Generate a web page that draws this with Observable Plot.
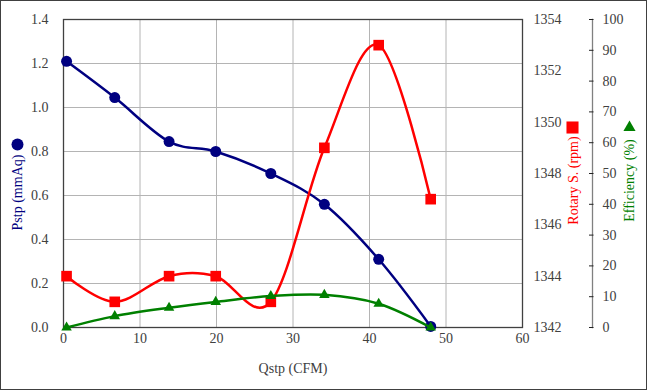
<!DOCTYPE html>
<html><head><meta charset="utf-8">
<script src="https://cdn.jsdelivr.net/npm/d3@7"></script>
<script src="https://cdn.jsdelivr.net/npm/@observablehq/plot@0.6"></script>
<style>
body{margin:0;background:#fff}
#chart svg{display:block;outline:1.5px solid #404040;outline-offset:-1.5px}
#chart svg, #chart svg text{font-family:"Liberation Serif","Times New Roman",serif !important}
</style>
</head><body><div id="chart"></div>
<script>
const qstp = [0.4, 6.7, 13.8, 19.9, 27.1, 34.1, 41.2, 48.0];
const pstp = [1.21, 1.045, 0.845, 0.80, 0.70, 0.56, 0.31, 0.005];
const rpm = [1344, 1343, 1344, 1344, 1343, 1349, 1353, 1347];
const eff = [0, 3.7, 6.4, 8.3, 10.2, 10.6, 7.7, 0];
const xTicks = [0, 10, 20, 30, 40, 50, 60];
const pTicks = [0, 0.2, 0.4, 0.6, 0.8, 1.0, 1.2, 1.4];
const rpmTicks = [1342, 1344, 1346, 1348, 1350, 1352, 1354];
const effTicks = [0, 10, 20, 30, 40, 50, 60, 70, 80, 90, 100];
const pDomain = [0, 1.4], rpmDomain = [1342, 1354], effDomain = [0, 100];
const titles = {x: "Qstp (CFM)", p: "Pstp (mmAq)", r: "Rotary S. (rpm)", e: "Efficiency (%)"};

const rpmToP = d3.scaleLinear(rpmDomain, pDomain);
const effToP = d3.scaleLinear(effDomain, pDomain);
const rows = qstp.map((q, i) => ({q, p: pstp[i], r: rpmToP(rpm[i]), e: effToP(eff[i])}));

const navy = "#000080", red = "#ff0000", green = "#008000", ink = "#404040", grid = "#b4b4b4";

const chart = Plot.plot({
  width: 647, height: 390,
  marginLeft: 63, marginRight: 125, marginTop: 19, marginBottom: 63,
  style: {fontFamily: "'Liberation Serif', serif", fontSize: "14px", color: ink, background: "#fff"},
  x: {domain: [0, 60]},
  y: {domain: pDomain},
  marks: [
    Plot.gridX(xTicks, {stroke: grid, strokeOpacity: 1}),
    Plot.gridY(pTicks, {stroke: grid, strokeOpacity: 1}),
    Plot.frame({stroke: ink, strokeWidth: 1.3}),
    Plot.axisX(xTicks, {tickSize: 0, tickPadding: 6, label: null}),
    Plot.axisY(pTicks, {anchor: "left", tickSize: 0, tickPadding: 15, tickFormat: d3.format(".1f"), label: null}),
    Plot.axisY(rpmTicks.map(rpmToP), {anchor: "right", tickSize: 0, tickPadding: 11, tickFormat: v => String(Math.round(rpmToP.invert(v))), label: null}),
    Plot.frame({anchor: "right", dx: 70, stroke: "#808080", strokeWidth: 1.3}),
    Plot.axisY(effTicks.map(effToP), {anchor: "right", dx: 66, tickSize: 4.5, tickFormat: () => "", label: null, stroke: "#222"}),
    Plot.axisY(effTicks.map(effToP), {anchor: "right", dx: 70, tickSize: 0, tickPadding: 10, tickFormat: v => String(Math.round(effToP.invert(v))), label: null}),
    Plot.line(rows, {x: "q", y: "p", stroke: navy, strokeWidth: 2.5, curve: "cardinal"}),
    Plot.dot(rows, {x: "q", y: "p", fill: navy, r: 5.5, symbol: "circle"}),
    Plot.line(rows, {x: "q", y: "r", stroke: red, strokeWidth: 2.5, curve: "cardinal"}),
    Plot.dot(rows, {x: "q", y: "r", fill: red, r: 6, symbol: "square"}),
    Plot.line(rows, {x: "q", y: "e", stroke: green, strokeWidth: 2.5, curve: "cardinal"}),
    Plot.dot(rows, {x: "q", y: "e", fill: green, r: 3.9, symbol: "triangle"}),
    Plot.text([titles.x], {frameAnchor: "bottom", dy: 41, textAnchor: "middle", lineAnchor: "middle", fill: ink}),
    Plot.text([titles.p], {frameAnchor: "left", dx: -46, dy: 19, rotate: -90, textAnchor: "middle", lineAnchor: "middle", fill: navy}),
    Plot.dot([0], {frameAnchor: "left", dx: -46, dy: -29, r: 6, fill: navy, symbol: "circle"}),
    Plot.text([titles.r], {frameAnchor: "right", dx: 51, dy: 7, rotate: -90, textAnchor: "middle", lineAnchor: "middle", fill: red}),
    Plot.dot([0], {frameAnchor: "right", dx: 50, dy: -46, r: 6.8, fill: red, symbol: "square"}),
    Plot.text([titles.e], {frameAnchor: "right", dx: 107, dy: 7, rotate: -90, textAnchor: "middle", lineAnchor: "middle", fill: green}),
    Plot.dot([0], {frameAnchor: "right", dx: 107, dy: -46, r: 4.5, fill: green, symbol: "triangle"})
  ]
});
document.getElementById("chart").append(chart);
</script>
</body></html>
